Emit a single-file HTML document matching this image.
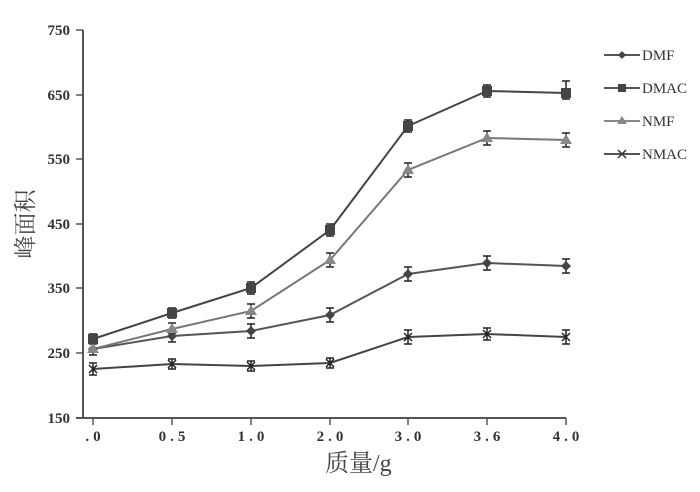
<!DOCTYPE html>
<html><head><style>body{margin:0;background:#fff}</style></head><body>
<svg width="700" height="487" xmlns="http://www.w3.org/2000/svg" font-family="Liberation Serif, serif">
<rect width="700" height="487" fill="#fff"/>
<g stroke="#555" stroke-width="2" fill="none">
<line x1="83" y1="30" x2="83" y2="418"/>
<line x1="76" y1="418" x2="566" y2="418"/>
</g>
<g stroke="#555" stroke-width="1.5">
<line x1="76" y1="30" x2="83" y2="30"/><line x1="76" y1="95" x2="83" y2="95"/><line x1="76" y1="159" x2="83" y2="159"/><line x1="76" y1="224" x2="83" y2="224"/><line x1="76" y1="288" x2="83" y2="288"/><line x1="76" y1="353" x2="83" y2="353"/>
<line x1="93" y1="418" x2="93" y2="425"/><line x1="172" y1="418" x2="172" y2="425"/><line x1="251" y1="418" x2="251" y2="425"/><line x1="330" y1="418" x2="330" y2="425"/><line x1="408" y1="418" x2="408" y2="425"/><line x1="487" y1="418" x2="487" y2="425"/><line x1="566" y1="418" x2="566" y2="425"/>
</g>
<g font-size="15" font-weight="bold" fill="#333" text-anchor="end">
<text x="70" y="35">750</text><text x="70" y="100">650</text><text x="70" y="164">550</text><text x="70" y="229">450</text><text x="70" y="293">350</text><text x="70" y="358">250</text><text x="70" y="423">150</text>
</g>
<g font-size="15" font-weight="bold" fill="#333" text-anchor="middle" letter-spacing="4">
<text x="95" y="441">.0</text><text x="174" y="441">0.5</text><text x="253" y="441">1.0</text><text x="332" y="441">2.0</text><text x="410" y="441">3.0</text><text x="489" y="441">3.6</text><text x="568" y="441">4.0</text>
</g>
<text x="325" y="471" font-size="24" fill="#444" font-family="Liberation Serif, Noto Serif CJK SC, serif">质量/g</text>
<text transform="translate(33,224) rotate(-90)" font-size="23" fill="#444" text-anchor="middle" font-family="Noto Serif CJK SC, serif">峰面积</text>
<g fill="none" stroke-width="2">
<polyline stroke="#555" points="93,349 172,336 251,331 330,315 408,274 487,263 566,266"/>
<polyline stroke="#444" points="93,339 172,313 251,288 330,230 408,126 487,91 566,93"/>
<polyline stroke="#777" points="93,349 172,329 251,311 330,260 408,170 487,138 566,140"/>
<polyline stroke="#444" points="93,369 172,364 251,366 330,363 408,337 487,334 566,337"/>
</g>
<g stroke="#222" stroke-width="1.5">
<path d="M93,343v12M89,343h8M89,355h8 M172,330v12M168,330h8M168,342h8 M251,324v14M247,324h8M247,338h8 M330,308v14M326,308h8M326,322h8 M408,267v14M404,267h8M404,281h8 M487,256v14M483,256h8M483,270h8 M566,259v14M562,259h8M562,273h8"/>
<path d="M93,334v10M89,334h8M89,344h8 M172,308v10M168,308h8M168,318h8 M251,282v12M247,282h8M247,294h8 M330,224v12M326,224h8M326,236h8 M408,120v12M404,120h8M404,132h8 M487,85v12M483,85h8M483,97h8 M566,81v18M562,81h8M562,99h8"/>
<path d="M172,323v10M168,323h8M168,333h8 M251,304v14M247,304h8M247,318h8 M330,253v14M326,253h8M326,267h8 M408,163v14M404,163h8M404,177h8 M487,131v14M483,131h8M483,145h8 M566,133v14M562,133h8M562,147h8"/>
<path d="M93,363v12M89,363h8M89,375h8 M172,359v10M168,359h8M168,369h8 M251,361v10M247,361h8M247,371h8 M330,358v10M326,358h8M326,368h8 M408,330v14M404,330h8M404,344h8 M487,328v12M483,328h8M483,340h8 M566,330v14M562,330h8M562,344h8"/>
</g>
<g fill="#444">
<path d="M93,344l5,5-5,5-5-5z M172,331l5,5-5,5-5-5z M251,326l5,5-5,5-5-5z M330,310l5,5-5,5-5-5z M408,269l5,5-5,5-5-5z M487,258l5,5-5,5-5-5z M566,261l5,5-5,5-5-5z"/>
<rect x="88" y="334" width="10" height="10"/><rect x="167" y="308" width="10" height="10"/><rect x="246" y="283" width="10" height="10"/><rect x="325" y="225" width="10" height="10"/><rect x="403" y="121" width="10" height="10"/><rect x="482" y="86" width="10" height="10"/><rect x="561" y="88" width="10" height="10"/>
</g>
<g fill="#888">
<path d="M172,323l6,10h-12z M251,305l6,10h-12z M330,254l6,10h-12z M408,164l6,10h-12z M487,132l6,10h-12z M566,134l6,10h-12z M93,343l6,10h-12z"/>
</g>
<g stroke="#222" stroke-width="1.5">
<path d="M89,365l8,8M97,365l-8,8 M168,360l8,8M176,360l-8,8 M247,362l8,8M255,362l-8,8 M326,359l8,8M334,359l-8,8 M404,333l8,8M412,333l-8,8 M483,330l8,8M491,330l-8,8 M562,333l8,8M570,333l-8,8"/>
</g>
<g stroke-width="2">
<line x1="604" y1="55" x2="640" y2="55" stroke="#555"/><line x1="604" y1="88" x2="640" y2="88" stroke="#555"/><line x1="604" y1="121" x2="640" y2="121" stroke="#888"/><line x1="604" y1="154" x2="640" y2="154" stroke="#555"/>
</g>
<path d="M622,51l4,4-4,4-4-4z" fill="#444"/>
<rect x="618" y="84" width="8" height="8" fill="#444"/>
<path d="M622,116l5,8h-10z" fill="#888"/>
<path d="M618,150l8,8M626,150l-8,8" stroke="#333" stroke-width="1.5"/>
<g font-size="15" fill="#333">
<text x="642" y="60">DMF</text><text x="642" y="93">DMAC</text><text x="642" y="126">NMF</text><text x="642" y="159">NMAC</text>
</g>
</svg>
</body></html>
